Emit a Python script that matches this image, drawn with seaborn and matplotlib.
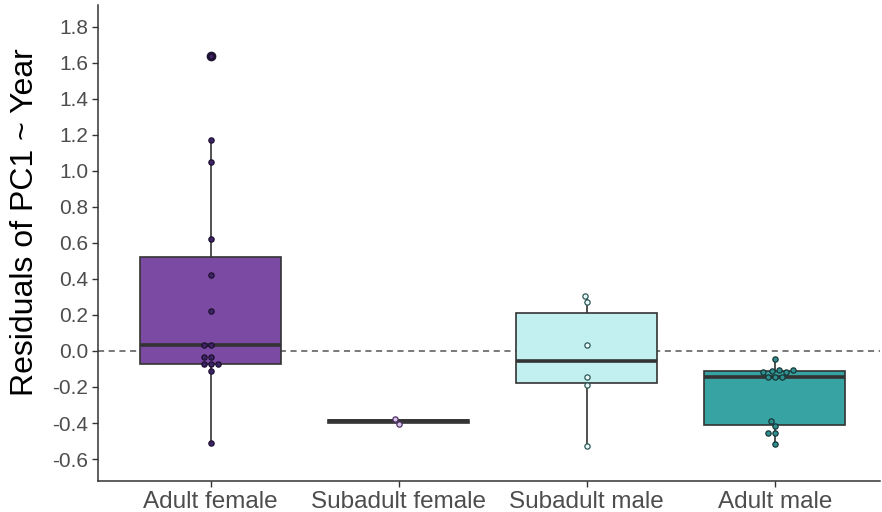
import numpy as np
import pandas as pd
import matplotlib
matplotlib.use("Agg")
import matplotlib.pyplot as plt
import seaborn as sns

# groups in plotting order
groups = ["Adult female", "Subadult female", "Subadult male", "Adult male"]

# residual values
adult_female = [1.635, 1.17, 1.048, 0.62, 0.42, 0.224, 0.035, 0.035,
                -0.035, -0.035, -0.072, -0.072, -0.072, -0.109, -0.51]
subadult_female = [-0.375, -0.405]
subadult_male = [0.307, 0.272, 0.031, -0.143, -0.19, -0.528]
adult_male = [-0.046, -0.105, -0.108, -0.111, -0.114, -0.117,
              -0.143, -0.143, -0.143, -0.389, -0.417, -0.456, -0.456, -0.519]

box_fill = ["#7B4BA3", "#E3B7DD", "#C2F0F0", "#38A3A3"]
dot_face = ["#3E2466", "#D9C5E8", "#EAFBFB", "#2F8F8F"]
dot_edge = ["#1E1030", "#4E2E66", "#2F5656", "#173838"]

yticks = np.round(np.arange(-0.6, 1.81, 0.2), 1)

df = pd.DataFrame({
    "group": (["Adult female"] * len(adult_female)
              + ["Subadult female"] * len(subadult_female)
              + ["Subadult male"] * len(subadult_male)
              + ["Adult male"] * len(adult_male)),
    "value": adult_female + subadult_female + subadult_male + adult_male,
})

sns.set_style("ticks")
plt.rcParams["font.family"] = ["Liberation Sans", "DejaVu Sans"]

fig = plt.figure(figsize=(8.82, 5.12), dpi=100)
ax = fig.add_axes([0.111, 0.0605, 0.887, 0.9295])

ax.axhline(0, color="#555555", linestyle=(0, (4, 3)), linewidth=1.1, zorder=0)

sns.boxplot(data=df, x="group", y="value", order=groups, hue="group",
            hue_order=groups, palette=box_fill, saturation=1, width=0.75,
            linecolor="#333333", linewidth=1.2, showcaps=False, legend=False,
            medianprops=dict(linewidth=2.6, color="#333333"),
            flierprops=dict(marker="o", markersize=6,
                            markerfacecolor="#1C1530",
                            markeredgecolor="#1C1530"),
            ax=ax)

for g, fc, ec in zip(groups, dot_face, dot_edge):
    sns.swarmplot(data=df[df["group"] == g], x="group", y="value",
                  order=groups, color=fc, edgecolor=ec, linewidth=0.9,
                  size=3.8, ax=ax, zorder=3)

ax.set_xlim(-0.6, 3.56)
ax.set_ylim(-0.722, 1.92)
ax.set_yticks(yticks)
ax.set_yticklabels([f"{v:.1f}" for v in yticks])
ax.set_xlabel("")
ax.set_ylabel("Residuals of PC1 ~ Year", fontsize=23, color="black")
ax.yaxis.set_label_coords(-0.074, 0.545)

ax.tick_params(axis="both", colors="#333333", labelcolor="#4D4D4D",
               length=4, width=1, pad=3)
ax.tick_params(axis="y", labelsize=15)
ax.tick_params(axis="x", labelsize=17.5)
for s in ["top", "right"]:
    ax.spines[s].set_visible(False)
for s in ["left", "bottom"]:
    ax.spines[s].set_color("#333333")
    ax.spines[s].set_linewidth(1.1)

fig.savefig("out.png", dpi=100)
